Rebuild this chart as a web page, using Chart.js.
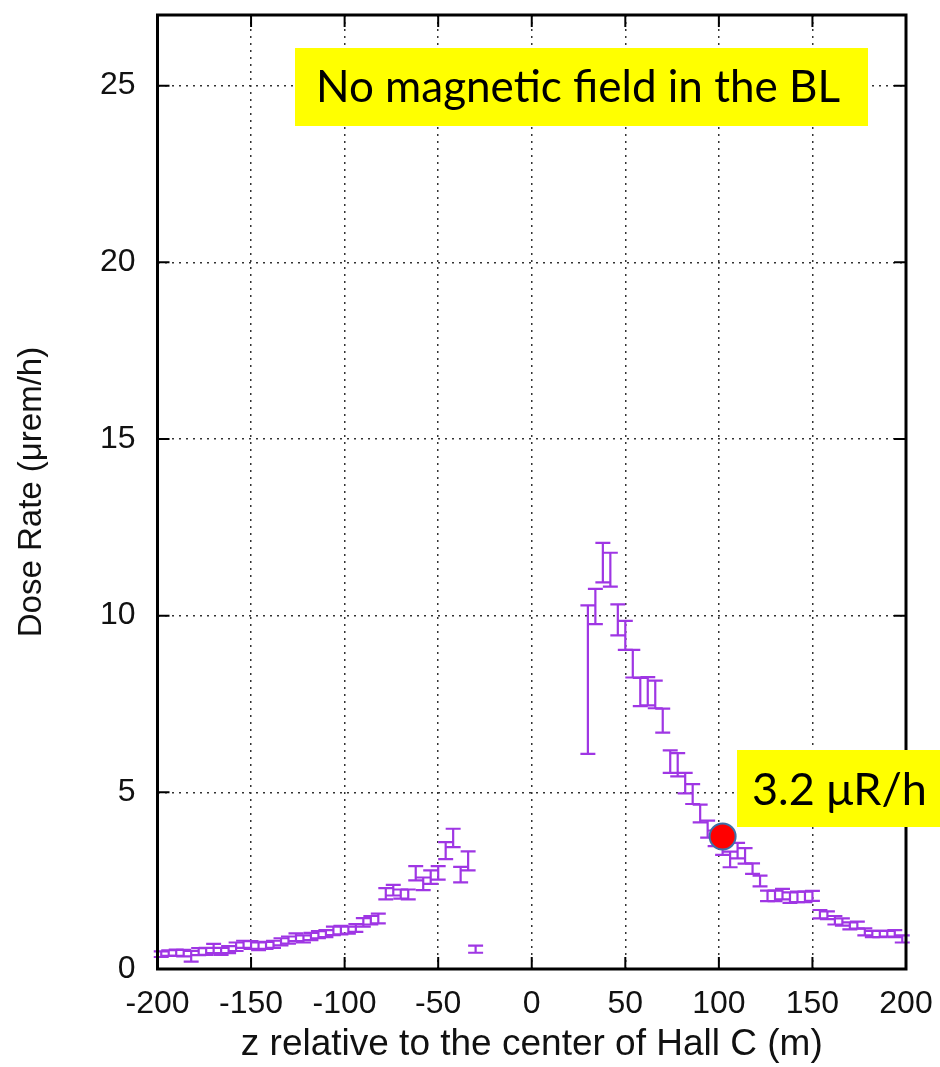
<!DOCTYPE html>
<html>
<head>
<meta charset="utf-8">
<script src="https://cdn.jsdelivr.net/npm/chart.js@4"></script>
<style>
  html, body { margin: 0; padding: 0; background: #fff; }
</style>
</head>
<body>
<canvas id="myChart" width="940" height="1067"></canvas>
<script>
// bin centres along the beamline (m), 4 m bins
const zCenters = [-198, -194, -190, -186, -182, -178, -174, -170, -166, -162, -158, -154, -150, -146, -142, -138, -134, -130, -126, -122,
    -118, -114, -110, -106, -102, -98, -94, -90, -86, -82, -78, -74, -70, -66, -62, -58, -54, -50, -46, -42, -38, -34, -30,
    -26, -22, -18, -14, -10, -6, -2, 2, 6, 10, 14, 18, 22, 26,
    30, 34, 38, 42, 46, 50, 54, 58, 62, 66, 70, 74, 78, 82, 86, 90, 94, 98, 102, 106, 110, 114, 118, 122, 126,
    130, 134, 138, 142, 146, 150, 154, 158, 162, 166, 170, 174, 178, 182, 186, 190, 194, 198]

// dose rate (urem/h), null = empty bin
const doseRate = [0.42, 0.45, 0.46, 0.45, 0.36, 0.49, 0.50, 0.58, 0.50, 0.55, 0.63, 0.70, 0.68, 0.64, 0.67, 0.70, 0.77, 0.82, 0.90, 0.85,
    0.92, 0.97, 1.00, 1.08, 1.10, 1.10, 1.16, 1.32, 1.38, 1.43, 2.13, 2.23, 2.12, 2.11, 2.71, 2.41, 2.60, 2.72, 3.35, 3.71, 2.67, 3.06, 0.56,
    null, null, null, null, null, null, null, null, null, null, null, null, null, null,
    8.19, 10.26, 11.5, 11.3, 9.88, 9.44, 8.64, 7.84, 7.86, 7.77, 7.03, 5.87, 5.78, 5.26, 4.95, 4.40, 3.96, 3.70, 3.45, 3.10, 3.35, 3.20, 2.84, 2.49, 2.07,
    2.07, 2.12, 2.02, 2.04, 2.04, 2.07, 1.55, 1.52, 1.38, 1.33, 1.22, 1.24, 1.05, 0.99, 0.99, 1.00, 1.00, 0.85]

const doseErr = [0.08, 0.08, 0.09, 0.09, 0.15, 0.1, 0.1, 0.13, 0.1, 0.1, 0.12, 0.1, 0.11, 0.11, 0.1, 0.1, 0.1, 0.1, 0.11, 0.1,
    0.1, 0.1, 0.1, 0.12, 0.12, 0.1, 0.11, 0.12, 0.12, 0.14, 0.16, 0.15, 0.13, 0.14, 0.2, 0.18, 0.19, 0.19, 0.24, 0.26, 0.22, 0.27, 0.1,
    null, null, null, null, null, null, null, null, null, null, null, null, null, null,
    2.1, 0.5, 0.56, 0.48, 0.44, 0.41, 0.39, 0.4, 0.4, 0.39, 0.34, 0.32, 0.33, 0.29, 0.28, 0.25, 0.24, 0.22, 0.22, 0.22, 0.22, 0.22, 0.15, 0.15, 0.15,
    0.15, 0.15, 0.15, 0.15, 0.15, 0.14, 0.12, 0.11, 0.12, 0.1, 0.1, 0.1, 0.1, 0.09, 0.09, 0.08, 0.1, 0.1]

const xTicks = [-200, -150, -100, -50, 0, 50, 100, 150, 200]
const yTicks = [0, 5, 10, 15, 20, 25]

// the red marker
const markerZ = [102]
const markerRate = [3.75]

const capHalf = 4 // m

const errorBars = {
    id: "errorBars",
    beforeDatasetsDraw(chart) {
        const {ctx, chartArea: a, scales: {x, y}} = chart
        ctx.save()
        // error bars
        ctx.strokeStyle = "#9f36e4"
        ctx.lineWidth = 2.2
        chart.data.datasets[0].data.forEach(p => {
            if (p.y == null) return
            const px = x.getPixelForValue(p.x)
            const top = y.getPixelForValue(p.y + p.err)
            const bot = y.getPixelForValue(p.y - p.err)
            const w = x.getPixelForValue(p.x + capHalf) - px
            ctx.beginPath()
            ctx.moveTo(px, top); ctx.lineTo(px, bot)
            ctx.moveTo(px - w, top); ctx.lineTo(px + w, top)
            ctx.moveTo(px - w, bot); ctx.lineTo(px + w, bot)
            ctx.stroke()
        })
        // frame + inner ticks
        ctx.strokeStyle = "#000"
        ctx.lineWidth = 2
        ctx.beginPath()
        xTicks.forEach(v => {
            const px = x.getPixelForValue(v)
            ctx.moveTo(px, a.bottom); ctx.lineTo(px, a.bottom - 12)
            ctx.moveTo(px, a.top); ctx.lineTo(px, a.top + 12)
        })
        yTicks.forEach(v => {
            const py = y.getPixelForValue(v)
            ctx.moveTo(a.left, py); ctx.lineTo(a.left + 12, py)
            ctx.moveTo(a.right, py); ctx.lineTo(a.right - 12, py)
        })
        ctx.stroke()
        ctx.lineWidth = 3
        ctx.strokeRect(a.left, a.top, a.right - a.left, a.bottom - a.top)
        ctx.restore()
    },
    afterDraw(chart) {
        const ctx = chart.ctx
        ctx.save()
        ctx.fillStyle = "#ffff00"
        ctx.fillRect(295, 48, 573, 78)
        ctx.fillRect(737, 750, 203, 77)
        ctx.fillStyle = "#000"
        ctx.textBaseline = "middle"
        ctx.textAlign = "left"
        ctx.font = "44px Lato"
        ctx.fillText("No magnetic field in the BL", 316, 88)
        ctx.font = "45px Lato"
        ctx.fillText("3.2 \u03bcR/h", 752, 790)
        ctx.restore()
    }
}

const ctx = document.getElementById("myChart").getContext("2d")

new Chart(ctx, {
    type: "scatter",
    data: {
        datasets: [{
            data: zCenters.map((z, i) => ({x: z, y: doseRate[i], err: doseErr[i]})),
            pointRadius: 0,
            showLine: false
        }, {
            data: markerZ.map((z, i) => ({x: z, y: markerRate[i]})),
            pointRadius: 13,
            pointBackgroundColor: "#ff0000",
            pointBorderColor: "#3e6ea6",
            pointBorderWidth: 2
        }]
    },
    plugins: [errorBars],
    options: {
        responsive: false,
        animation: false,
        devicePixelRatio: 1,
        layout: {padding: {top: 12, right: 34, left: 0, bottom: 0}},
        plugins: {legend: {display: false}, tooltip: {enabled: false}},
        scales: {
            x: {
                type: "linear",
                min: -200, max: 200,
                afterBuildTicks: s => { s.ticks = xTicks.map(v => ({value: v})) },
                afterFit: s => { s.height = 98; s.paddingLeft = 0; s.paddingRight = 0 },
                grid: {color: "#333", lineWidth: 1.5, drawTicks: false},
                border: {display: false, dash: [2, 5]},
                ticks: {color: "#111", padding: 16, font: {family: "Liberation Sans", size: 32}, maxRotation: 0},
                title: {display: true, text: "z relative to the center of Hall C (m)", color: "#111",
                    font: {family: "Liberation Sans", size: 37}, padding: {top: 0, bottom: 0}}
            },
            y: {
                min: 0, max: 27,
                afterBuildTicks: s => { s.ticks = yTicks.map(v => ({value: v})) },
                afterFit: s => { s.width = 157.5; s.paddingTop = 0; s.paddingBottom = 0 },
                grid: {color: "#333", lineWidth: 1.5, drawTicks: false},
                border: {display: false, dash: [2, 5]},
                ticks: {color: "#111", padding: 22, font: {family: "Liberation Sans", size: 32}},
                title: {display: true, text: "Dose Rate (\u03bcrem/h)", color: "#111",
                    font: {family: "Liberation Sans", size: 33}, padding: {top: 12, bottom: 0}}
            }
        }
    }
})
</script>
</body>
</html>
